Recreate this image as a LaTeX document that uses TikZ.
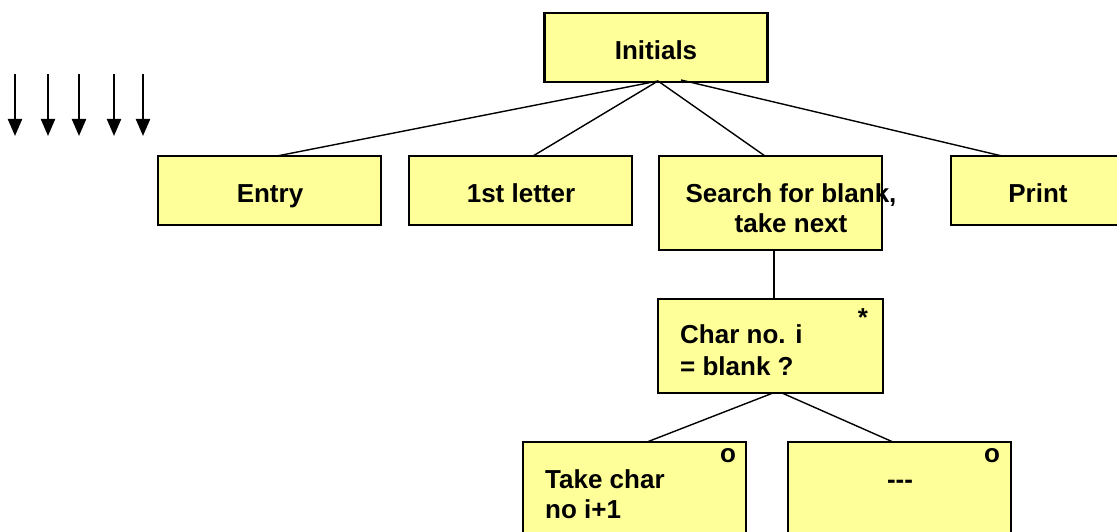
\documentclass[tikz,border=0pt]{standalone}
\usepackage{fontspec}
\setmainfont{Liberation Sans}
\usetikzlibrary{arrows.meta}
\definecolor{boxfill}{HTML}{FFFF99}
\tikzset{
  box/.style={draw=black, line width=2.2pt, fill=boxfill, minimum width=223pt, minimum height=69pt, inner sep=0pt},
  tall/.style={minimum height=94pt},
  txt/.style={font=\bfseries\fontsize{26}{31}\selectfont, inner sep=0pt, anchor=base},
  conn/.style={line width=1.4pt},
  flow/.style={line width=2.2pt, -{Triangle[length=17pt,width=14pt]}}
}
\begin{document}
\begin{tikzpicture}[x=1pt,y=-1pt]
\useasboundingbox (0,0) rectangle (1117,532);
\clip (0,0) rectangle (1117,532);

% boxes
\node[box] (init) at (656,47.5) {};
\node[box] (entry) at (269.5,190.5) {};
\node[box] (first) at (520.5,190.5) {};
\node[box,tall] (search) at (770.5,203) {};
\node[box] (print) at (1062.5,190.5) {};
\node[box,tall,minimum width=225pt] (char) at (770.5,346) {};
\node[box,tall] (take) at (634.5,489) {};
\node[box,tall] (dash) at (899.5,489) {};

% texts
\node[txt] (tInit) at (656,60) {Initials};
\node[txt] (tEntry) at (270,203) {Entry};
\node[txt] (tFirst) at (521,202) {1st letter};
\node[txt] (tSearchA) at (791,202) {Search for blank,};
\node[txt] (tSearchB) at (791,232) {take next};
\node[txt] (tPrint) at (1038,202) {Print};
\node[txt,anchor=base west] (tCharA) at (680,343) {Char no. i};
\node[txt,anchor=base west] (tCharB) at (680,375) {= blank ?};
\node[txt] (tStar) at (863,326) {*};
\node[txt,anchor=base west] (tTakeA) at (545,488) {Take char};
\node[txt,anchor=base west] (tTakeB) at (545,518) {no i+1};
\node[txt] (tO1) at (728,462) {o};
\node[txt] (tDash) at (900,488) {-{}-{}-};
\node[txt] (tO2) at (992,462) {o};

% connector end points
\coordinate (iL) at (658,81);
\coordinate (iR) at (681,80);
\coordinate (eT) at (277,156);
\coordinate (fT) at (533,156);
\coordinate (sT) at (765,156);
\coordinate (pT) at (1002,156);
\coordinate (sB) at (774,250);
\coordinate (cT) at (774,299);
\coordinate (cBL) at (773,393);
\coordinate (cBR) at (782,393);
\coordinate (tT) at (647,442);
\coordinate (dT) at (893,442);

\draw[conn] (iL) -- (eT);
\draw[conn] (iL) -- (fT);
\draw[conn] (iL) -- (sT);
\draw[conn] (iR) -- (pT);
\draw[conn] (sB) -- (cT);
\draw[conn] (cBL) -- (tT);
\draw[conn] (cBR) -- (dT);

% flow arrows
\foreach \n/\x in {1/15,2/48,3/79,4/114,5/143}{
  \coordinate (a\n s) at (\x,74);
  \coordinate (a\n e) at (\x,136);
  \draw[flow] (a\n s) -- (a\n e);
}
\end{tikzpicture}
\end{document}
